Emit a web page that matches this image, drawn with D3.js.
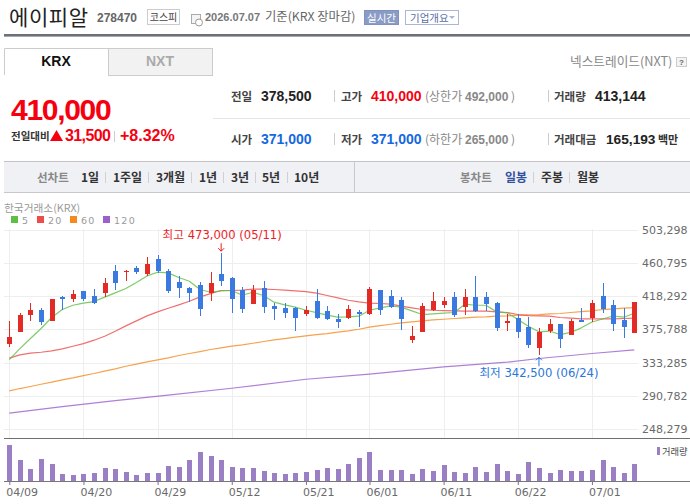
<!DOCTYPE html>
<html>
<head>
<meta charset="utf-8">
<style>
  html, body { margin: 0; padding: 0; background: #fff; overflow: hidden; }
  svg { display: block; }
  text { font-family: "Noto Sans CJK KR", "Liberation Sans", sans-serif; }
  .num { font-family: "Liberation Sans", Arial, sans-serif; font-weight: bold; }
  .axis text { font-family: "DejaVu Sans", sans-serif; font-size: 11px; fill: #6a6a6a; }
</style>
<script src="https://cdn.jsdelivr.net/npm/d3@7"></script>
</head>
<body>
<svg id="chart" width="690" height="504"></svg>
<script>
// daily candles (won)
const opens = [357000,372000,393500,400000,386500,416500,414000,424500,418000,422000,450000,449500,454000,446000,465500,
  450000,436000,428500,432000,422000,446000,441000,425500,408000,428500,405500,402500,402500,395000,411500,
  399000,388500,390000,397500,395000,425500,418000,413000,362000,372000,400000,406500,416500,404000,416500,
  416500,409000,383500,390000,378500,351500,373500,382000,368000,387500,390000,418000,406500,387500,371000];
const closes = [365500,393500,400000,385000,414000,414000,420500,414000,409000,434500,434500,450000,448500,459000,450000,
  424500,428500,422000,401500,434500,437000,414000,401500,425500,404000,401500,396500,390000,400000,390000,
  388500,385000,401500,395000,427000,400000,404000,388500,367000,405500,411500,411500,393500,416500,399000,
  408000,377000,386000,372000,355500,372000,382000,363000,386000,385000,409000,401500,382000,378500,410000];
const highs = [386000,396000,409000,402500,414000,418000,425500,424500,427000,441000,457500,451500,456500,468000,470500,
  452500,443500,429500,436000,448500,473000,442500,429500,432000,437000,409000,409000,404000,405500,427000,
  405500,395000,406500,400000,429500,425500,425500,416500,379500,409000,423000,416500,423000,427000,443500,
  423000,410500,395000,395000,391000,377000,388500,382000,388500,402500,413000,434500,413000,402500,410000];
const lows = [353500,372000,386500,381000,386500,401000,411000,411500,408000,416500,425500,437000,446000,443500,447500,
  422000,415500,410500,392500,411500,431000,396500,396500,408000,396500,387500,390000,373500,392500,388500,
  387500,377000,388500,378500,393500,393500,402500,374500,358000,372000,399000,402500,391000,393500,397500,
  399000,373500,373500,364500,351500,342500,370500,351500,368000,385000,385000,396500,373500,364500,371000];

const volumes = [874800,510300,291600,534600,413100,170100,145800,170100,194400,315900,291600,218700,145800,194400,194400,
  364500,340200,510300,704700,607500,510300,340200,315900,315900,243000,194400,170100,194400,218700,267300,
  315900,291600,413100,558900,704700,267300,267300,267300,170100,291600,243000,388800,218700,194400,340200,
  218700,413100,243000,170100,461700,315900,194400,267300,243000,243000,267300,510300,340200,194400,413144];

// moving averages as they sit on the chart
const ma5 = [337000,351000,364000,376700,390800,401000,406500,409100,411200,416800,422300,427800,435500,444000,448700,
  447900,441900,437200,426600,423100,424900,425300,419300,423100,418900,410400,407000,404000,400100,397100,
  393800,391200,391600,392500,400100,403100,405700,404000,399300,394600,395500,396300,397200,407800,406500,
  406500,398000,396700,388400,379700,372500,373500,368900,371700,377600,385000,388900,392700,391200,396200];
const ma20 = [338800,343000,345200,346400,348200,350700,354100,357500,361800,366900,373300,380100,386500,392900,398000,
  402700,407000,411600,417200,421400,425300,425300,425700,427000,427000,426600,425700,424900,424000,421900,
  418900,415900,412900,410800,409100,408700,407800,405300,403100,401000,400100,399700,399300,398900,398900,
  398900,398000,397200,394600,393300,392900,392500,390800,389900,389100,389100,389100,389100,389500,389900];
const ma60 = [297000,300000,302600,305500,308100,311100,313600,316600,319200,322200,325100,328500,331100,334100,336700,
  339200,342200,344800,347300,349900,352000,354100,355800,357900,360100,362200,363900,365600,367300,369000,
  370300,372000,373700,375800,378400,380500,382200,383900,385200,386500,387800,388600,389500,390300,391200,
  391600,392500,392900,393800,394200,394600,395500,395900,397200,398400,399300,401000,401800,402700,403500];
// only read at a few places, the line is nearly straight
const ma120Days = [0,5,10,15,21,28,34,41,47,50,55,59];
const ma120 = [268500,276800,284500,291500,300400,311900,318300,327700,333700,338400,344800,349400];

const yTicks = [503298,460795,418292,375788,333285,290782,248279];
const xTickDays = [0,7,14,21,28,34,41,48,55];
const xTickLabels = ["04/09","04/20","04/29","05/12","05/21","06/01","06/11","06/22","07/01"];
const maNames = ["5","20","60","120"];
const maColors = ["#5fbe45","#ee4b4b","#f58b1f","#9c5fcb"];
const rangeNames = ["1일","1주일","3개월","1년","3년","5년","10년"];
const rangeX = [81,113,156,199,231,262,294];
const rangeSep = [105,148,191,223,255,287];

const RED = "#e12b24", BLUE = "#3a79e0";
const PRICE_RED = "#f6000f", PRICE_BLUE = "#1668e0";

const svg = d3.select("#chart");

function label(x, y, str, opts) {
  opts = opts || {};
  const t = svg.append("text")
    .attr("x", x).attr("y", y)
    .attr("font-size", opts.size || 12)
    .attr("fill", opts.color || "#333")
    .attr("text-anchor", opts.anchor || "start")
    .attr("font-weight", opts.weight || "normal")
    .text(str);
  if (opts.cls) t.attr("class", opts.cls);
  if (opts.spacing) t.attr("letter-spacing", opts.spacing);
  if (opts.font) t.style("font-family", opts.font);
  return t;
}
function box(x, y, w, h, fill, stroke) {
  return svg.append("rect").attr("x", x).attr("y", y).attr("width", w).attr("height", h)
    .attr("fill", fill).attr("stroke", stroke || "none");
}
function vsep(x, y1, y2, color) {
  svg.append("line").attr("x1", x).attr("x2", x).attr("y1", y1).attr("y2", y2)
    .attr("stroke", color || "#ccc").attr("shape-rendering", "crispEdges");
}

// ---- header ----
label(9, 25, "에이피알", {size: 21, color: "#222", spacing: 0.6});
label(97, 22, "278470", {size: 12, color: "#666", cls: "num"});
box(147.5, 9.5, 32, 15, "#fff", "#ccc");
label(163.5, 21, "코스피", {size: 10, color: "#444", anchor: "middle"});
// small calendar icon
box(191.5, 14.5, 9, 9, "#f4f4f4", "#aaa");
svg.append("circle").attr("cx", 199).attr("cy", 22.5).attr("r", 3.5).attr("fill", "#fff").attr("stroke", "#999");
label(205, 21, "2026.07.07", {size: 11, color: "#777", cls: "num"});
label(265, 21, "기준(KRX 장마감)", {size: 12.3, color: "#666"});
box(364.5, 10.5, 34, 14, "#8a9cc6", "#7f91bd");
label(381.5, 21.5, "실시간", {size: 10.5, color: "#fff", anchor: "middle"});
box(405.5, 10.5, 53, 14, "#fff", "#a9b6d6");
label(410, 21.5, "기업개요", {size: 10.5, color: "#5b6fa3"});
svg.append("path").attr("d", d3.line()([[449,16],[455,16],[452,19]])).attr("fill", "#a9b6d6");
box(4, 34, 686, 2.6, "#6c707c");

// tabs
svg.append("path").attr("d", "M4.5,75V48.5H108.5V75").attr("fill", "#fff").attr("stroke", "#ccc");
box(108.5, 48.5, 104, 27, "#f2f2f2", "#ccc");
label(56, 66, "KRX", {size: 14, color: "#111", anchor: "middle", cls: "num"});
label(160, 66, "NXT", {size: 14, color: "#aaa", anchor: "middle", cls: "num"});
label(570, 66, "넥스트레이드(NXT)", {size: 12.7, color: "#888"});
box(676.5, 57.5, 10, 9, "#f3f3f3", "#ccc");
label(681.5, 65, "?", {size: 8, color: "#666", anchor: "middle", cls: "num"});

// current price block
label(11, 120, "410,000", {size: 30, color: PRICE_RED, cls: "num", spacing: -1.3});
label(11, 140, "전일대비", {size: 10.5, color: "#333", weight: "bold"});
svg.append("path").attr("d", d3.line()([[56.5,130],[63,141],[50,141]])).attr("fill", PRICE_RED);
label(65, 141, "31,500", {size: 16, color: PRICE_RED, cls: "num", spacing: -0.6});
vsep(114.5, 131, 142, "#ccc");
label(120, 141, "+8.32%", {size: 16, color: PRICE_RED, cls: "num"});

// stats rows
svg.append("line").attr("x1", 213).attr("x2", 690).attr("y1", 118.5).attr("y2", 118.5).attr("stroke", "#e6e6e6");
[96,139].forEach(function(c) {
  vsep(334.5, c - 6, c + 6, "#ccc");
  vsep(548.5, c - 6, c + 6, "#ccc");
});
label(231, 101, "전일", {size: 11.5, color: "#444", weight: "bold"});
label(261, 101, "378,500", {size: 14, color: "#222", cls: "num"});
label(341, 101, "고가", {size: 11.5, color: "#444", weight: "bold"});
label(371, 101, "410,000", {size: 14, color: PRICE_RED, cls: "num"});
label(425, 101, "(상한가", {size: 12, color: "#888"});
label(465, 101, "492,000", {size: 12, color: "#888", cls: "num"});
label(511, 101, ")", {size: 12, color: "#888"});
label(554, 101, "거래량", {size: 11.5, color: "#444", weight: "bold"});
label(595, 101, "413,144", {size: 14, color: "#222", cls: "num"});
label(231, 144, "시가", {size: 11.5, color: "#444", weight: "bold"});
label(261, 144, "371,000", {size: 14, color: PRICE_BLUE, cls: "num"});
label(341, 144, "저가", {size: 11.5, color: "#444", weight: "bold"});
label(371, 144, "371,000", {size: 14, color: PRICE_BLUE, cls: "num"});
label(425, 144, "(하한가", {size: 12, color: "#888"});
label(465, 144, "265,000", {size: 12, color: "#888", cls: "num"});
label(511, 144, ")", {size: 12, color: "#888"});
label(554, 144, "거래대금", {size: 11.5, color: "#444", weight: "bold"});
label(606, 144, "165,193", {size: 13.7, color: "#222", cls: "num"});
label(658, 144, "백만", {size: 11, color: "#333", weight: "bold"});

// toolbar
box(4, 161.5, 686, 31, "#f0f1f5");
svg.append("line").attr("x1", 4).attr("x2", 690).attr("y1", 161.5).attr("y2", 161.5).attr("stroke", "#c4c4c8");
svg.append("line").attr("x1", 4).attr("x2", 690).attr("y1", 192.5).attr("y2", 192.5).attr("stroke", "#c8c8cc");
vsep(354.5, 161, 192, "#c8c8cc");
label(37, 182, "선차트", {size: 11.5, color: "#888", weight: "bold"});
rangeNames.forEach(function(name, i) {
  label(rangeX[i], 182, name, {size: 12, color: "#333", weight: "bold"});
});
rangeSep.forEach(function(x) { vsep(x + 0.5, 172, 183, "#d0d0d4"); });
label(460, 182, "봉차트", {size: 11.5, color: "#888", weight: "bold"});
label(505, 182, "일봉", {size: 12, color: "#33509f", weight: "bold"});
vsep(533.5, 172, 183, "#d0d0d4");
label(541, 182, "주봉", {size: 12, color: "#333", weight: "bold"});
vsep(569.5, 172, 183, "#d0d0d4");
label(577, 182, "월봉", {size: 12, color: "#333", weight: "bold"});

// ---- chart ----
const x = d3.scaleLinear().domain([0, 59]).range([9.3, 634.3]);
const y = d3.scaleLinear().domain([248279, 503298]).range([429, 229.5]);
const yVol = d3.scaleLinear().domain([0, 413144]).range([481, 464]);

// legend
label(4, 212, "한국거래소(KRX)", {size: 10.7, color: "#999"});
const legendBox = [11, 37, 70, 103];
maNames.forEach(function(name, i) {
  box(legendBox[i], 216, 7, 7, maColors[i]);
  label(legendBox[i] + 11, 224, name, {size: 9.5, color: "#999", font: "'DejaVu Sans'", spacing: 1.3});
});

// grid
svg.append("g").selectAll("line").data(yTicks).enter().append("line")
  .attr("x1", 4).attr("x2", 638)
  .attr("y1", d => Math.round(y(d)) + 0.5).attr("y2", d => Math.round(y(d)) + 0.5)
  .attr("stroke", "#eee");
svg.append("g").selectAll("line").data(xTickDays).enter().append("line")
  .attr("x1", d => Math.round(x(d)) + 0.5).attr("x2", d => Math.round(x(d)) + 0.5)
  .attr("y1", 229).attr("y2", 438)
  .attr("stroke", "#eee");

// price axis labels
const yAxis = svg.append("g").attr("class", "axis")
  .attr("transform", "translate(638,0)")
  .call(d3.axisRight(y).tickValues(yTicks).tickFormat(d3.format(",")).tickSize(0).tickPadding(4));
yAxis.select(".domain").remove();

// moving average lines, long ones first
const days = d3.range(60);
function drawMa(values, idx, color) {
  const line = d3.line().x((d, i) => x(idx[i])).y(d => y(d));
  svg.append("path").datum(values).attr("d", line)
    .attr("fill", "none").attr("stroke", color).attr("stroke-width", 1.2)
    .attr("stroke-opacity", 0.8).attr("stroke-linejoin", "round");
}
drawMa(ma120, ma120Days, maColors[3]);
drawMa(ma60, days, maColors[2]);
drawMa(ma20, days, maColors[1]);
drawMa(ma5, days, maColors[0]);

// candles
const candles = svg.append("g").selectAll("g").data(days).enter().append("g")
  .attr("fill", d => closes[d] >= opens[d] ? RED : BLUE);
candles.append("rect")
  .attr("x", d => Math.round(x(d)) - 0.5).attr("width", 1)
  .attr("y", d => y(highs[d])).attr("height", d => y(lows[d]) - y(highs[d]))
  .attr("shape-rendering", "crispEdges");
candles.append("rect")
  .attr("x", d => Math.round(x(d)) - 2.5).attr("width", 5)
  .attr("y", d => y(Math.max(opens[d], closes[d])))
  .attr("height", d => Math.max(1, Math.abs(y(opens[d]) - y(closes[d]))))
  .attr("shape-rendering", "crispEdges");

// high / low callouts
const hiDay = 20, loDay = 50;
const calloutFont = "'DejaVu Sans','Noto Sans CJK KR'";
label(x(hiDay) + 1, 239, "최고 473,000 (05/11)", {size: 11.6, color: "#ee1c25", anchor: "middle", font: calloutFont});
svg.append("path")
  .attr("d", `M${x(hiDay)},${y(473000) - 10}V${y(473000) - 2}M${x(hiDay) - 3},${y(473000) - 5}L${x(hiDay)},${y(473000) - 2}L${x(hiDay) + 3},${y(473000) - 5}`)
  .attr("fill", "none").attr("stroke", "#ee1c25");
label(x(loDay), 377, "최저 342,500 (06/24)", {size: 11.6, color: "#2a76d8", anchor: "middle", font: calloutFont});
svg.append("path")
  .attr("d", `M${x(loDay)},${y(342500) + 11}V${y(342500) + 2}M${x(loDay) - 3},${y(342500) + 5}L${x(loDay)},${y(342500) + 2}L${x(loDay) + 3},${y(342500) + 5}`)
  .attr("fill", "none").attr("stroke", "#2a76d8");

// volume pane
svg.append("line").attr("x1", 4).attr("x2", 690).attr("y1", 438.5).attr("y2", 438.5).attr("stroke", "#6f6f6f");
svg.append("g").selectAll("rect").data(days).enter().append("rect")
  .attr("x", d => Math.round(x(d)) - 2.5).attr("width", 5)
  .attr("y", d => yVol(volumes[d])).attr("height", d => yVol(0) - yVol(volumes[d]))
  .attr("fill", "#9b7fc4").attr("shape-rendering", "crispEdges");
box(657, 447, 3, 8, "#9b7fc4");
label(662, 455, "거래량", {size: 9.3, color: "#444"});

const xAxis = svg.append("g").attr("class", "axis")
  .attr("transform", "translate(0,481)")
  .call(d3.axisBottom(x).tickValues(xTickDays).tickFormat((d, i) => xTickLabels[i]).tickSize(4).tickPadding(3));
xAxis.select(".domain").remove();
xAxis.selectAll("line").attr("stroke", "#777");
xAxis.selectAll("text").attr("text-anchor", "start").attr("dx", -3.5);
svg.append("line").attr("x1", 4).attr("x2", 690).attr("y1", 481.5).attr("y2", 481.5).attr("stroke", "#777");
</script>
</body>
</html>
